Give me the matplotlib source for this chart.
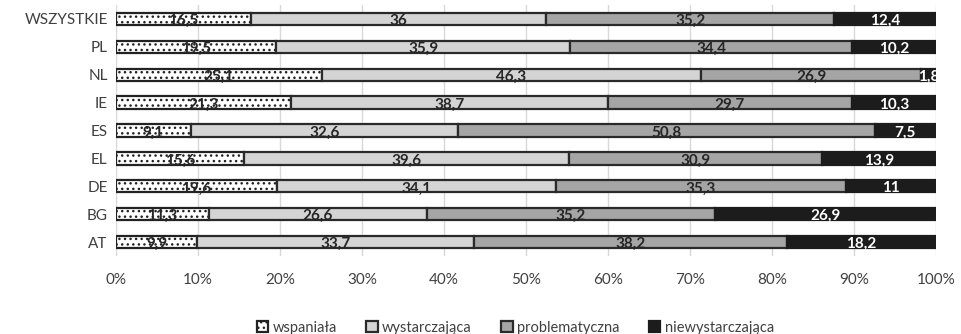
import numpy as np
import matplotlib.pyplot as plt
from matplotlib.ticker import PercentFormatter

plt.rcParams['font.family'] = ['Lato', 'DejaVu Sans']
plt.rcParams['hatch.linewidth'] = 1.0

countries = ['WSZYSTKIE', 'PL', 'NL', 'IE', 'ES', 'EL', 'DE', 'BG', 'AT']
wspaniala = [16.5, 19.5, 25.1, 21.3, 9.1, 15.6, 19.6, 11.3, 9.9]
wystarczajaca = [36, 35.9, 46.3, 38.7, 32.6, 39.6, 34.1, 26.6, 33.7]
problematyczna = [35.2, 34.4, 26.9, 29.7, 50.8, 30.9, 35.3, 35.2, 38.2]
niewystarczajaca = [12.4, 10.2, 1.8, 10.3, 7.5, 13.9, 11, 26.9, 18.2]

series = [
    ('wspaniała', wspaniala, 'white', '...', '#222222'),
    ('wystarczająca', wystarczajaca, '#d4d4d4', None, '#2a2a2a'),
    ('problematyczna', problematyczna, '#a5a5a5', None, '#2a2a2a'),
    ('niewystarczająca', niewystarczajaca, '#1c1c1c', None, '#1c1c1c'),
]

def fmt(v):
    return f'{v:g}'.replace('.', ',')

fig = plt.figure(figsize=(9.61, 3.34), dpi=100)
ax = fig.add_axes([0.1207, 0.2335, 0.8533, 0.7515])

y = np.arange(len(countries))
totals = np.sum([s[1] for s in series], axis=0)
left = np.zeros(len(countries))
for name, vals, color, hatch, edge in series:
    share = np.array(vals) / totals
    bars = ax.barh(y, share, left=left, height=0.44, color=color, hatch=hatch,
                   edgecolor=edge, linewidth=1.6, label=name, zorder=3)
    txt_color = 'white' if color == '#1c1c1c' else '#262626'
    anns = ax.bar_label(bars, labels=[fmt(v) for v in vals], label_type='center',
                        color=txt_color, fontsize=11, fontweight='bold', zorder=4)
    for a in anns:
        a.xyann = (0, -1.5)
    left += share

ax.set_xlim(0, 1)
ax.set_ylim(len(countries) - 0.5, -0.5)
ax.set_yticks(y)
ax.set_yticklabels(countries)
ax.set_xticks(np.linspace(0, 1, 11))
ax.xaxis.set_major_formatter(PercentFormatter(1.0, decimals=0))
ax.tick_params(axis='both', length=0, labelsize=11, colors='#404040', pad=6)
ax.tick_params(axis='x', pad=12)
ax.grid(axis='x', color='#d9d9d9', linewidth=1, zorder=0)
for s in ax.spines.values():
    s.set_visible(False)

ax.legend(loc='lower center', bbox_to_anchor=(0.487, -0.365), ncol=4, frameon=False,
          fontsize=10.5, handlelength=0.8, handleheight=0.8, handletextpad=0.3,
          columnspacing=2.0, labelcolor='#404040')

fig.savefig('out.png', dpi=100)
